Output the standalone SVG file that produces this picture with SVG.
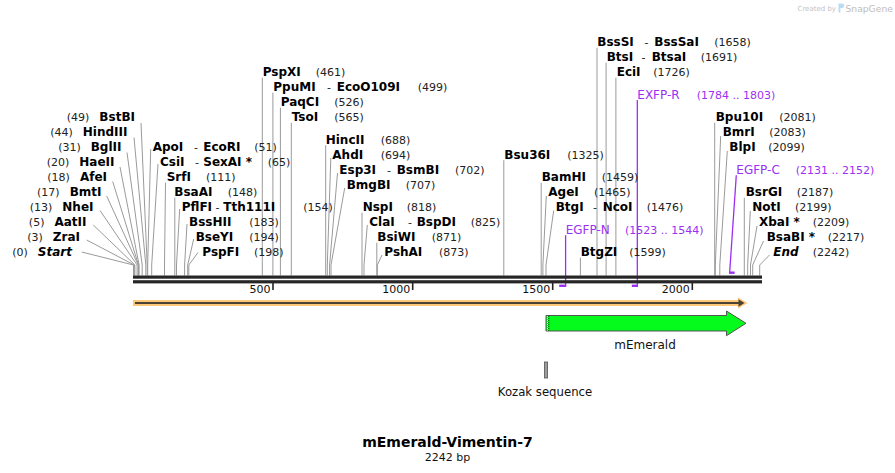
<svg xmlns="http://www.w3.org/2000/svg" width="895" height="473" viewBox="0 0 895 473">
<style>
text{font-family:"DejaVu Sans",Verdana,sans-serif}
.b{font-weight:bold;font-size:12px;fill:#000}
.i{font-weight:bold;font-style:italic;font-size:12px;fill:#000}
.n{font-size:11px;fill:#222}
.p{font-size:12px;fill:#9b30f2}
.pn{font-size:11px;fill:#9b30f2}
.t{font-size:11px;fill:#111}
.ln{stroke:#9a9a9a;stroke-width:1;fill:none}
.pl{stroke:#9b30f2;stroke-width:1.3;fill:none}
.pm{fill:#9b30f2}
.tk{stroke:#222;stroke-width:1.6}
</style>
<rect width="895" height="473" fill="#fff"/>

<g id="watermark">
<text x="797.5" y="10.5" style="font-size:7px;fill:#c4c4c4">Created by</text>
<path d="M838.5,3.5 h3.5 a2.2,2.2 0 0 1 0,4.4 h-1.6 v4.6 h-1.9 z" fill="#b8dcf2"/>
<text x="845.5" y="11.5" style="font-size:9.2px;fill:#bdbdbd">SnapGene</text>
</g>

<g id="connectors">
<polyline class="ln" points="141,123 147.2,265 147.2,275.5"/>
<polyline class="ln" points="134,137.5 145.8,265 145.8,275.5"/>
<polyline class="ln" points="127,152.5 142.2,265 142.2,275.5"/>
<polyline class="ln" points="120,167 139.1,265 139.1,275.5"/>
<polyline class="ln" points="112.7,181.5 138.5,265 138.5,275.5"/>
<polyline class="ln" points="106.7,196 138.2,265 138.2,275.5"/>
<polyline class="ln" points="100,210.5 137.1,265 137.1,275.5"/>
<polyline class="ln" points="93.3,225 134.9,265 134.9,275.5"/>
<polyline class="ln" points="86.7,240 134.3,265 134.3,275.5"/>
<polyline class="ln" points="81.7,252 133.5,265 133.5,275.5"/>
<polyline class="ln" points="150.7,149 147.7,265 147.7,275.5"/>
<polyline class="ln" points="158,164 151.7,265 151.7,275.5"/>
<polyline class="ln" points="165.5,182.7 164.5,265 164.5,275.5"/>
<polyline class="ln" points="174.8,197.7 174.8,275.5"/>
<polyline class="ln" points="179.7,209 176.5,265 176.5,275.5"/>
<polyline class="ln" points="187,224 184.6,265 184.6,275.5"/>
<polyline class="ln" points="193.7,239 187.7,265 187.7,275.5"/>
<polyline class="ln" points="198,252.5 188.8,265 188.8,275.5"/>
<polyline class="ln" points="262.3,77.7 262.3,275.5"/>
<polyline class="ln" points="272.9,92.7 272.9,275.5"/>
<polyline class="ln" points="280.4,107.7 280.4,275.5"/>
<polyline class="ln" points="291.3,122.7 291.3,275.5"/>
<polyline class="ln" points="325.7,145.2 325.7,275.5"/>
<polyline class="ln" points="330.8,158 327.3,265 327.3,275.5"/>
<polyline class="ln" points="337.5,173 329.6,265 329.6,275.5"/>
<polyline class="ln" points="344.7,188 331,265 331,275.5"/>
<polyline class="ln" points="362,212.7 362,275.5"/>
<polyline class="ln" points="367.3,225 364,265 364,275.5"/>
<polyline class="ln" points="376.8,242.7 376.8,275.5"/>
<polyline class="ln" points="382,255 377.3,265 377.3,275.5"/>
<polyline class="ln" points="597,47.7 597,275.5"/>
<polyline class="ln" points="606.1,62.7 606.1,275.5"/>
<polyline class="ln" points="615.9,77.7 615.9,275.5"/>
<polyline class="ln" points="503.8,160.2 503.8,275.5"/>
<polyline class="ln" points="541.2,182.7 541.2,275.5"/>
<polyline class="ln" points="546.3,196 542.9,265 542.9,275.5"/>
<polyline class="ln" points="553.7,210.5 546,265 546,275.5"/>
<polyline class="ln" points="580.4,257.7 580.4,275.5"/>
<polyline class="ln" points="714.7,122.7 714.7,275.5"/>
<polyline class="ln" points="720.7,136 715.3,265 715.3,275.5"/>
<polyline class="ln" points="727.3,151 719.8,265 719.8,275.5"/>
<polyline class="ln" points="744.3,197.7 744.3,275.5"/>
<polyline class="ln" points="750.3,211 747.7,265 747.7,275.5"/>
<polyline class="ln" points="757,226 750.5,265 750.5,275.5"/>
<polyline class="ln" points="763.5,241 752.7,265 752.7,275.5"/>
<polyline class="ln" points="769.5,255 759.7,265 759.7,275.5"/>
<polyline class="pl" points="637.3,100 637.3,286"/>
<rect class="pm" x="631.8" y="284.6" width="6.2" height="2.4"/>
<polyline class="pl" points="565.6,235.2 565.6,286"/>
<rect class="pm" x="559.2" y="284.6" width="7" height="2.4"/>
<polyline class="pl" points="736.3,175.2 729.7,272"/>
<rect class="pm" x="729" y="271.5" width="5.6" height="2.4"/>
</g>

<g id="backbone">
<rect x="133" y="275.5" width="629" height="3.2" fill="#262626"/>
<rect x="133" y="280.2" width="629" height="3.2" fill="#262626"/>
<line class="tk" x1="273" y1="283" x2="273" y2="290"/>
<line class="tk" x1="412.7" y1="283" x2="412.7" y2="290"/>
<line class="tk" x1="552.7" y1="283" x2="552.7" y2="290"/>
<line class="tk" x1="692.3" y1="283" x2="692.3" y2="290"/>
<text class="t" x="270.5" y="293" text-anchor="end">500</text>
<text class="t" x="410.2" y="293" text-anchor="end">1000</text>
<text class="t" x="550.2" y="293" text-anchor="end">1500</text>
<text class="t" x="689.8" y="293" text-anchor="end">2000</text>
</g>

<g id="orange-strand">
<path d="M133,300 L738,300 L738,297.5 L747.5,303 L738,308.5 L738,306 L133,306 Z" fill="#fdc878"/>
<line x1="135" y1="303" x2="740" y2="303" stroke="#4a4234" stroke-width="2"/>
<path d="M738.5,299.3 L744.5,303 L738.5,306.7 Z" fill="#4a4234"/>
</g>

<g id="mEmerald">
<path d="M546,315.5 L726.5,315.5 L726.5,311 L746,323.3 L726.5,335.7 L726.5,331 L546,331 Z" fill="#05fb1c" stroke="#555" stroke-width="1"/>
<line x1="547.6" y1="316" x2="547.6" y2="330.5" stroke="#fff" stroke-width="1" stroke-dasharray="1,1"/>
<line x1="548.8" y1="316" x2="548.8" y2="330.5" stroke="#000" stroke-width="0.8" stroke-dasharray="1,1"/>
<text x="645" y="349" text-anchor="middle" style="font-size:12px;fill:#111">mEmerald</text>
</g>

<g id="kozak">
<rect x="544.4" y="362" width="3.2" height="16" fill="#9c9c9c" stroke="#555" stroke-width="0.8"/>
<text x="545" y="396" text-anchor="middle" style="font-size:11.7px;fill:#111">Kozak sequence</text>
</g>

<g id="title">
<text x="447.5" y="447" text-anchor="middle" style="font-size:14px;font-weight:bold;fill:#000">mEmerald-Vimentin-7</text>
<text x="447.5" y="461" text-anchor="middle" style="font-size:11px;fill:#111">2242 bp</text>
</g>

<g id="BstBI"><text x="135" y="121.1" text-anchor="end"><tspan class="n">(49)</tspan><tspan class="b" dx="10">BstBI</tspan></text></g>
<g id="HindIII"><text x="127.5" y="136.1" text-anchor="end"><tspan class="n">(44)</tspan><tspan class="b" dx="10">HindIII</tspan></text></g>
<g id="BglII"><text x="121.5" y="151.1" text-anchor="end"><tspan class="n">(31)</tspan><tspan class="b" dx="10">BglII</tspan></text></g>
<g id="HaeII"><text x="114.5" y="166.1" text-anchor="end"><tspan class="n">(20)</tspan><tspan class="b" dx="10">HaeII</tspan></text></g>
<g id="AfeI"><text x="107" y="181.1" text-anchor="end"><tspan class="n">(18)</tspan><tspan class="b" dx="10">AfeI</tspan></text></g>
<g id="BmtI"><text x="101.5" y="196.1" text-anchor="end"><tspan class="n">(17)</tspan><tspan class="b" dx="10">BmtI</tspan></text></g>
<g id="NheI"><text x="93.5" y="211.1" text-anchor="end"><tspan class="n">(13)</tspan><tspan class="b" dx="10">NheI</tspan></text></g>
<g id="AatII"><text x="86.5" y="226.1" text-anchor="end"><tspan class="n">(5)</tspan><tspan class="b" dx="10">AatII</tspan></text></g>
<g id="ZraI"><text x="80" y="241.1" text-anchor="end"><tspan class="n">(3)</tspan><tspan class="b" dx="10">ZraI</tspan></text></g>
<g id="Start"><text x="72" y="256.1" text-anchor="end"><tspan class="n">(0)</tspan><tspan class="i" dx="10">Start</tspan></text></g>

<g id="ApoI"><text y="151.1"><tspan class="b" x="152.7">ApoI</tspan><tspan class="n" x="194">-</tspan><tspan class="b" x="203.3">EcoRI</tspan><tspan class="n" x="254.3">(51)</tspan></text></g>
<g id="CsiI"><text y="166.1"><tspan class="b" x="160">CsiI</tspan><tspan class="n" x="195">-</tspan><tspan class="b" x="203.3">SexAI *</tspan><tspan class="n" x="267.7">(65)</tspan></text></g>
<g id="SrfI"><text y="181.1"><tspan class="b" x="166.7">SrfI</tspan><tspan class="n" x="206">(111)</tspan></text></g>
<g id="BsaAI"><text y="196.1"><tspan class="b" x="174.3">BsaAI</tspan><tspan class="n" x="227.7">(148)</tspan></text></g>
<g id="PflFI"><text y="211.1"><tspan class="b" x="181.7">PflFI</tspan><tspan class="n" x="215.5">-</tspan><tspan class="b" x="223.3">Tth111I</tspan><tspan class="n" x="303.3">(154)</tspan></text></g>
<g id="BssHII"><text y="226.1"><tspan class="b" x="189">BssHII</tspan><tspan class="n" x="249.3">(183)</tspan></text></g>
<g id="BseYI"><text y="241.1"><tspan class="b" x="195.7">BseYI</tspan><tspan class="n" x="249.3">(194)</tspan></text></g>
<g id="PspFI"><text y="256.1"><tspan class="b" x="202.3">PspFI</tspan><tspan class="n" x="254">(198)</tspan></text></g>

<g id="PspXI"><text y="76.1"><tspan class="b" x="262.7">PspXI</tspan><tspan class="n" x="315.7">(461)</tspan></text></g>
<g id="PpuMI"><text y="91.1"><tspan class="b" x="273.3">PpuMI</tspan><tspan class="n" x="327">-</tspan><tspan class="b" x="336.7">EcoO109I</tspan><tspan class="n" x="417.7">(499)</tspan></text></g>
<g id="PaqCI"><text y="106.1"><tspan class="b" x="280.7">PaqCI</tspan><tspan class="n" x="334.3">(526)</tspan></text></g>
<g id="TsoI"><text y="121.1"><tspan class="b" x="291.7">TsoI</tspan><tspan class="n" x="334.3">(565)</tspan></text></g>
<g id="HincII"><text y="143.6"><tspan class="b" x="325.7">HincII</tspan><tspan class="n" x="380.7">(688)</tspan></text></g>
<g id="AhdI"><text y="158.6"><tspan class="b" x="332.3">AhdI</tspan><tspan class="n" x="380.7">(694)</tspan></text></g>
<g id="Esp3I"><text y="173.6"><tspan class="b" x="339.3">Esp3I</tspan><tspan class="n" x="387">-</tspan><tspan class="b" x="396.7">BsmBI</tspan><tspan class="n" x="455">(702)</tspan></text></g>
<g id="BmgBI"><text y="188.6"><tspan class="b" x="346.7">BmgBI</tspan><tspan class="n" x="405.7">(707)</tspan></text></g>
<g id="NspI"><text y="211.1"><tspan class="b" x="362.7">NspI</tspan><tspan class="n" x="406.7">(818)</tspan></text></g>
<g id="ClaI"><text y="226.1"><tspan class="b" x="369.3">ClaI</tspan><tspan class="n" x="408">-</tspan><tspan class="b" x="416.7">BspDI</tspan><tspan class="n" x="470.7">(825)</tspan></text></g>
<g id="BsiWI"><text y="241.1"><tspan class="b" x="377.3">BsiWI</tspan><tspan class="n" x="431.7">(871)</tspan></text></g>
<g id="PshAI"><text y="256.1"><tspan class="b" x="384.3">PshAI</tspan><tspan class="n" x="439">(873)</tspan></text></g>

<g id="BssSI"><text y="46.1"><tspan class="b" x="597.3">BssSI</tspan><tspan class="n" x="644.5">-</tspan><tspan class="b" x="654.3">BssSaI</tspan><tspan class="n" x="714.3">(1658)</tspan></text></g>
<g id="BtsI"><text y="61.1"><tspan class="b" x="606.7">BtsI</tspan><tspan class="n" x="641.5">-</tspan><tspan class="b" x="651.7">BtsaI</tspan><tspan class="n" x="700.7">(1691)</tspan></text></g>
<g id="EciI"><text y="76.1"><tspan class="b" x="616.7">EciI</tspan><tspan class="n" x="653.3">(1726)</tspan></text></g>
<g id="EXFP-R"><text y="98.6"><tspan class="p" x="637.3">EXFP-R</tspan><tspan class="pn" x="696.7">(1784 .. 1803)</tspan></text></g>
<g id="Bsu36I"><text y="158.6"><tspan class="b" x="504.3">Bsu36I</tspan><tspan class="n" x="567.3">(1325)</tspan></text></g>
<g id="BamHI"><text y="181.1"><tspan class="b" x="541.7">BamHI</tspan><tspan class="n" x="601.7">(1459)</tspan></text></g>
<g id="AgeI"><text y="196.1"><tspan class="b" x="548.3">AgeI</tspan><tspan class="n" x="594">(1465)</tspan></text></g>
<g id="BtgI"><text y="211.1"><tspan class="b" x="555.7">BtgI</tspan><tspan class="n" x="593">-</tspan><tspan class="b" x="602.7">NcoI</tspan><tspan class="n" x="646.7">(1476)</tspan></text></g>
<g id="EGFP-N"><text y="233.6"><tspan class="p" x="565.7">EGFP-N</tspan><tspan class="pn" x="625">(1523 .. 1544)</tspan></text></g>
<g id="BtgZI"><text y="256.1"><tspan class="b" x="580.7">BtgZI</tspan><tspan class="n" x="629.3">(1599)</tspan></text></g>
<g id="Bpu10I"><text y="121.1"><tspan class="b" x="715.7">Bpu10I</tspan><tspan class="n" x="779.3">(2081)</tspan></text></g>
<g id="BmrI"><text y="136.1"><tspan class="b" x="722.7">BmrI</tspan><tspan class="n" x="769.3">(2083)</tspan></text></g>
<g id="BlpI"><text y="151.1"><tspan class="b" x="729.3">BlpI</tspan><tspan class="n" x="768.3">(2099)</tspan></text></g>
<g id="EGFP-C"><text y="173.6"><tspan class="p" x="736.3">EGFP-C</tspan><tspan class="pn" x="795.7">(2131 .. 2152)</tspan></text></g>
<g id="BsrGI"><text y="196.1"><tspan class="b" x="745.7">BsrGI</tspan><tspan class="n" x="796.7">(2187)</tspan></text></g>
<g id="NotI"><text y="211.1"><tspan class="b" x="752.3">NotI</tspan><tspan class="n" x="795">(2199)</tspan></text></g>
<g id="XbaI"><text y="226.1"><tspan class="b" x="759">XbaI *</tspan><tspan class="n" x="812.7">(2209)</tspan></text></g>
<g id="BsaBI"><text y="241.1"><tspan class="b" x="766.7">BsaBI *</tspan><tspan class="n" x="827.7">(2217)</tspan></text></g>
<g id="End"><text y="256.1"><tspan class="i" x="773.3">End</tspan><tspan class="n" x="812.7">(2242)</tspan></text></g>
</svg>
